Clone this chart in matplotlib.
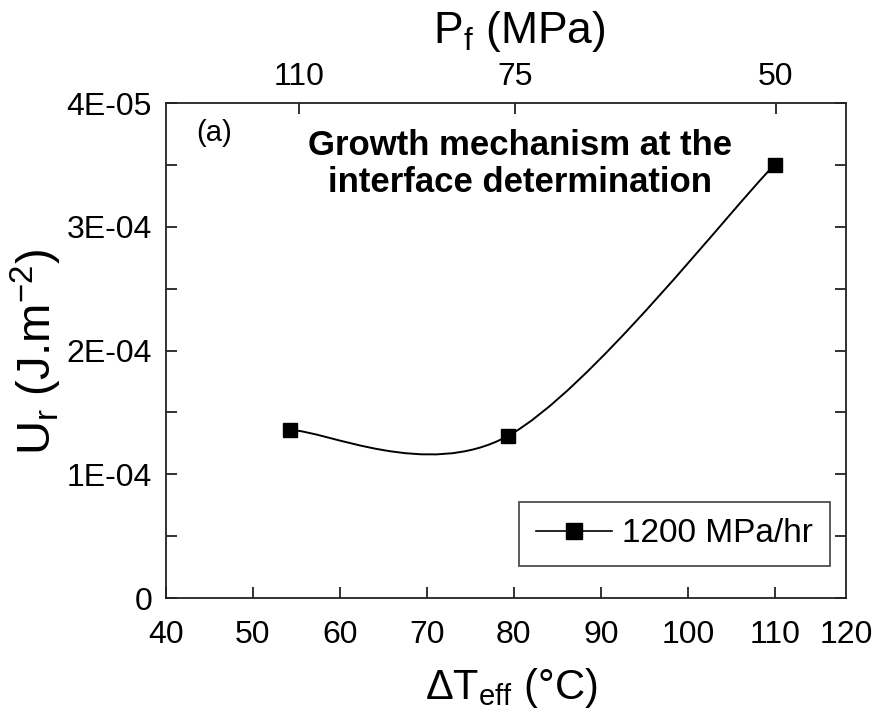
import numpy as np
import matplotlib
matplotlib.use("Agg")
import matplotlib.pyplot as plt
from matplotlib.path import Path
from matplotlib.patches import PathPatch
from matplotlib.lines import Line2D

plt.rcParams['font.family'] = ['Liberation Sans', 'DejaVu Sans']
plt.rcParams['mathtext.default'] = 'regular'

# data
dT_eff = [54.3, 79.3, 110.0]          # deg C
U_r = [1.358e-4, 1.309e-4, 3.503e-4]  # J/m^2
series_label = '1200 MPa/hr'

xticks_bottom = [40, 50, 60, 70, 80, 90, 100, 110]
x_last_label = '120'
yticks = [0, 1e-4, 2e-4, 3e-4, 4e-4]
ytick_labels = ['0', '1E-04', '2E-04', '3E-04', '4E-05']
pf_pos = [55.3, 80.1, 110.1]
pf_labels = ['110', '75', '50']

INK = '#222222'

fig = plt.figure(figsize=(8.76, 7.18), dpi=100)
ax = fig.add_axes([0.1895, 0.1671, 0.7763, 0.6894])
ax.set_xlim(40, 118.2)
ax.set_ylim(0, 4e-4)

# smoothed line (Excel-like bezier) through the points
x = np.array(dT_eff)
y = np.array(U_r)
px = np.concatenate([[x[0]], x, [x[-1]]])
py = np.concatenate([[y[0]], y, [y[-1]]])
verts = [(x[0], y[0])]
codes = [Path.MOVETO]
for i in range(1, len(x)):
    c1 = (px[i] + (px[i + 1] - px[i - 1]) / 6, py[i] + (py[i + 1] - py[i - 1]) / 6)
    c2 = (px[i + 1] - (px[i + 2] - px[i]) / 6, py[i + 1] - (py[i + 2] - py[i]) / 6)
    verts += [c1, c2, (px[i + 1], py[i + 1])]
    codes += [Path.CURVE4] * 3
ax.add_patch(PathPatch(Path(verts, codes), fc='none', ec='black', lw=1.4))
ax.plot(x, y, ls='none', marker='s', ms=9.5, color='black')

handle = Line2D([], [], color='black', lw=1.2, marker='s', ms=11)
leg = ax.legend([handle], [series_label], loc='lower right',
                bbox_to_anchor=(0.976, 0.065), fontsize=24, frameon=True,
                fancybox=False, handlelength=2.3, handletextpad=0.3,
                borderpad=0.5, borderaxespad=0)
leg.get_frame().set_edgecolor(INK)
leg.get_frame().set_linewidth(1.3)

# axes styling
for s in ax.spines.values():
    s.set_color(INK)
    s.set_linewidth(1.3)
ax.set_xticks(xticks_bottom)
ax.set_xticklabels([str(v) for v in xticks_bottom])
ax.set_yticks(yticks)
ax.set_yticklabels(ytick_labels)
ax.set_yticks(np.arange(0.5e-4, 4e-4, 1e-4), minor=True)
ax.tick_params(which='both', direction='in', length=8, width=1.3, color=INK,
               labelsize=23, right=True, top=False)
ax.tick_params(axis='x', pad=16)
ax.tick_params(axis='y', pad=10)
# last bottom label sits under the right spine
ax.text(1.0, -0.045, x_last_label, transform=ax.transAxes,
        ha='center', va='top', fontsize=23)

top = ax.secondary_xaxis('top')
top.set_xticks(pf_pos, pf_labels)
top.tick_params(direction='in', length=8, width=1.3, color=INK, labelsize=23, pad=8)
top.spines['top'].set_visible(False)

# labels
fig.text(511 / 876, 1 - 688 / 718, r'$\Delta$T$_{eff}$ (°C)', ha='center', va='center', fontsize=30)
fig.text(36 / 876, 1 - 352 / 718, r'U$_r$ (J.m$^{-2}$)', ha='center', va='center',
         rotation=90, fontsize=34)
fig.text(519 / 876, 1 - 32 / 718, r'P$_f$ (MPa)', ha='center', va='center', fontsize=32)

ax.text(0.045, 0.968, '(a)', transform=ax.transAxes, ha='left', va='top', fontsize=21)
ax.text(0.52, 0.948, 'Growth mechanism at the\ninterface determination',
        transform=ax.transAxes, ha='center', va='top', fontsize=25,
        fontweight='bold', linespacing=1.15)

fig.savefig('out.png', dpi=100)
